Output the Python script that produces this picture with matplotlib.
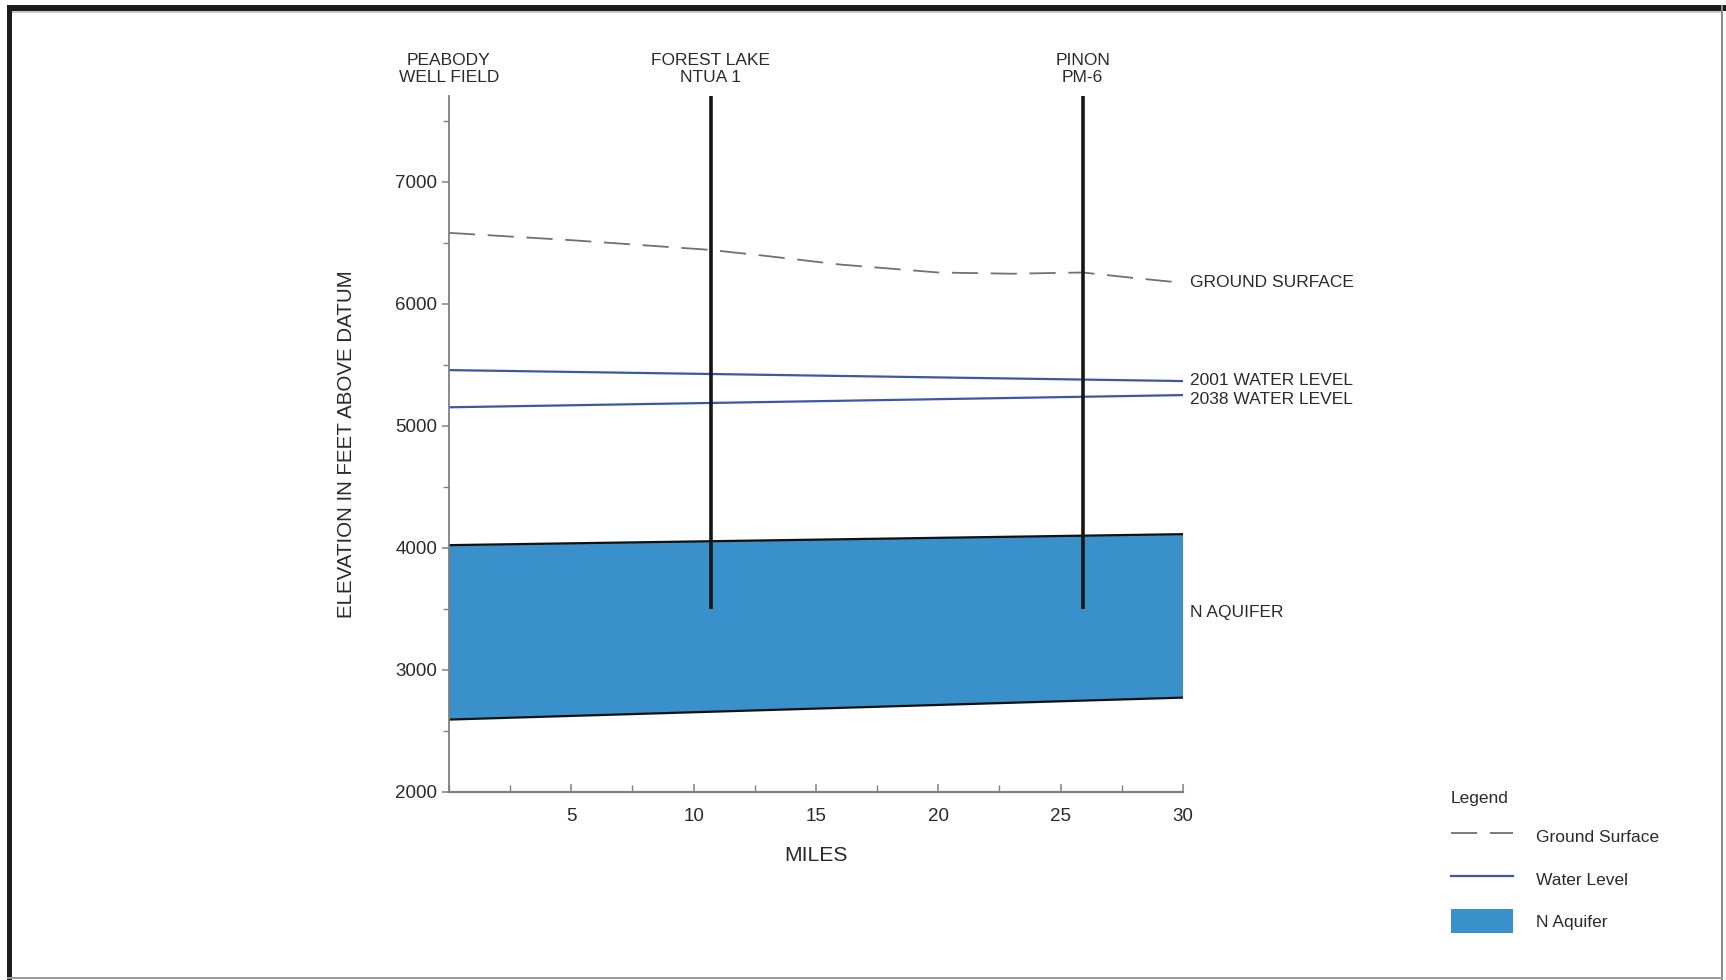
import matplotlib
matplotlib.use("Agg")
import matplotlib.pyplot as plt
from matplotlib.patches import Rectangle
from matplotlib.ticker import MultipleLocator

plt.rcParams['font.family'] = ['Liberation Sans', 'DejaVu Sans']

# Section distances (miles) and elevations (feet above datum)
ground_miles = [0, 5, 10.7, 13, 16, 20, 23, 25.9, 28, 30]
ground_elev = [6580, 6520, 6440, 6390, 6320, 6255, 6245, 6255, 6210, 6170]

level_miles = [0, 30]
water_2001 = [5455, 5365]
water_2038 = [5150, 5250]

aquifer_miles = [0, 30]
aquifer_top = [4020, 4110]
aquifer_bottom = [2590, 2770]

# Wells drawn as vertical bars, and the headers above the section
well_miles = [10.7, 25.9]
well_top = 7700
well_bottom = 3500
header_miles = [0, 10.7, 25.9]
header_names = ["PEABODY\nWELL FIELD", "FOREST LAKE\nNTUA 1", "PINON\nPM-6"]

x_major = [5, 10, 15, 20, 25, 30]
y_major = [2000, 3000, 4000, 5000, 6000, 7000]

right_labels = ["GROUND SURFACE", "2001 WATER LEVEL", "2038 WATER LEVEL", "N AQUIFER"]
right_label_elev = [6170, 5370, 5210, 3470]

TEXT = '#2a2a2a'
GROUND = '#707070'
WATER = '#3e56a8'
AQUIFER = '#3990cb'
AXIS = '#808080'

fig = plt.figure(figsize=(17.26, 9.8), dpi=100)
fig.patch.set_facecolor('white')
ax = fig.add_axes([0.2601, 0.1923, 0.4253, 0.7095])

ax.set_xlim(0, 30)
ax.set_ylim(2000, 7700)

# N aquifer body with its upper and lower contacts
aq = ax.fill_between(aquifer_miles, aquifer_bottom, aquifer_top,
                     facecolor=AQUIFER, edgecolor='none', zorder=1)
ax.plot(aquifer_miles, aquifer_top, color='#111111', lw=1.6, zorder=2)
ax.plot(aquifer_miles, aquifer_bottom, color='#111111', lw=1.6, zorder=2)

# Water levels
w1, = ax.plot(level_miles, water_2001, color=WATER, lw=1.6, zorder=2)
ax.plot(level_miles, water_2038, color=WATER, lw=1.6, zorder=2)

# Ground surface
gs, = ax.plot(ground_miles, ground_elev, color=GROUND, lw=1.3,
              dashes=(14.5, 7.0), zorder=2)

# Wells
ax.vlines(well_miles, well_bottom, well_top, colors='#161616', lw=2.6, zorder=3)

for xm, name in zip(header_miles, header_names):
    ax.text(xm, 7925, name, ha='center', va='center', fontsize=12.5,
            color=TEXT, linespacing=1.15, clip_on=False)

for name, elev in zip(right_labels, right_label_elev):
    ax.text(30.3, elev, name, ha='left', va='center', fontsize=12.5,
            color=TEXT, clip_on=False)

# Axes styling
for side in ('top', 'right'):
    ax.spines[side].set_visible(False)
ax.spines['left'].set_color(AXIS)
ax.spines['left'].set_linewidth(1.3)
ax.spines['bottom'].set_color(AXIS)
ax.spines['bottom'].set_linewidth(1.6)

ax.set_xticks(x_major)
ax.set_xticklabels([str(v) for v in x_major])
ax.xaxis.set_minor_locator(MultipleLocator(2.5))
ax.set_yticks(y_major)
ax.set_yticklabels([str(v) for v in y_major])
ax.yaxis.set_minor_locator(MultipleLocator(500))

ax.tick_params(axis='x', which='major', direction='in', length=6, width=1.1,
               color=AXIS, labelsize=13.5, labelcolor=TEXT, pad=12)
ax.tick_params(axis='x', which='minor', direction='in', length=5, width=1.0,
               color=AXIS)
ax.tick_params(axis='y', which='major', direction='out', length=5, width=1.1,
               color=AXIS, labelsize=13.5, labelcolor=TEXT, pad=3.5)
ax.tick_params(axis='y', which='minor', direction='out', length=4, width=1.0,
               color=AXIS)

ax.set_xlabel('MILES', fontsize=15.2, color=TEXT)
ax.xaxis.set_label_coords(0.5, -0.078)
ax.set_ylabel('ELEVATION IN FEET ABOVE DATUM', fontsize=14.8, color=TEXT)
ax.yaxis.set_label_coords(-0.127, 0.5)

# Legend
leg = fig.legend([gs, w1, aq], ['Ground Surface', 'Water Level', 'N Aquifer'],
                 title='Legend', loc='upper left',
                 bbox_to_anchor=(0.8407, 0.1924), frameon=False,
                 fontsize=12.5, title_fontsize=12.5, alignment='left',
                 handlelength=3.54, handletextpad=1.33, handleheight=1.75,
                 labelspacing=1.05, borderpad=0, borderaxespad=0)
for t in leg.get_texts():
    t.set_color(TEXT)
leg.get_title().set_color(TEXT)

# Page frame
W, H = 1726.0, 980.0
frame = [
    (7, 5, 1719, 6, '#1c1c1c'),      # top bar
    (7, 5, 5, 975, '#1c1c1c'),       # left bar
    (12, 11, 1710, 2, '#c8c8c8'),    # inner shadow under top bar
    (1721, 5, 2, 975, '#8a8a8a'),    # right edge
    (7, 977, 1716, 2, '#9a9a9a'),    # bottom edge
]
for x, y, w, h, c in frame:
    fig.add_artist(Rectangle((x / W, 1 - (y + h) / H), w / W, h / H,
                             transform=fig.transFigure, facecolor=c,
                             edgecolor='none', zorder=10))

fig.savefig('out.png', dpi=100)
